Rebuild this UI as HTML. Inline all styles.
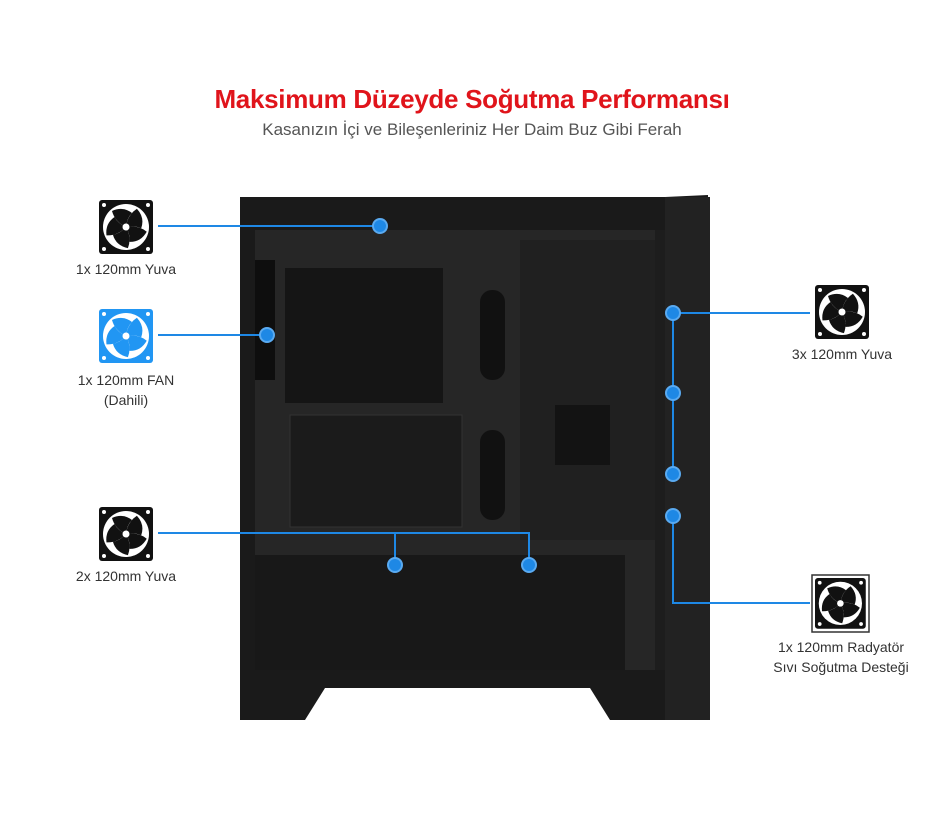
<!DOCTYPE html>
<html><head><meta charset="utf-8"><style>
body{margin:0;width:950px;height:814px;background:#fff;overflow:hidden;font-family:"Liberation Sans",sans-serif;position:relative}
.t{position:absolute;text-align:center;color:#333;font-size:14px}
</style></head><body>
<div class="t" style="left:0;width:944px;top:84px;font-size:26px;font-weight:bold;color:#e0141b;letter-spacing:-0.3px">Maksimum Düzeyde Soğutma Performansı</div>
<div class="t" style="left:0;width:944px;top:120px;font-size:17px;color:#555">Kasanızın İçi ve Bileşenleriniz Her Daim Buz Gibi Ferah</div>
<svg width="950" height="814" style="position:absolute;left:0;top:0">
<!-- case -->
<path d="M240 197 L665 197 L708 195 L710 720 L610 720 L590 688 L325 688 L305 720 L240 720 Z" fill="#1a1a1a"/>
<rect x="255" y="230" width="410" height="440" fill="#262626"/>
<rect x="285" y="268" width="158" height="135" fill="#151515"/>
<rect x="290" y="415" width="172" height="112" fill="#1b1b1b" stroke="#333"/>
<rect x="520" y="240" width="140" height="300" fill="#202020"/>
<rect x="555" y="405" width="55" height="60" fill="#131313"/>
<rect x="480" y="290" width="25" height="90" rx="12" fill="#111"/>
<rect x="480" y="430" width="25" height="90" rx="12" fill="#111"/>
<rect x="255" y="555" width="370" height="115" fill="#181818"/>
<rect x="255" y="260" width="20" height="120" fill="#0e0e0e"/>
<rect x="665" y="197" width="45" height="523" fill="#222"/>
<rect x="655" y="230" width="10" height="440" fill="#1d1d1d"/>
<!-- lines -->
<g stroke="#1e88e5" stroke-width="2" fill="none">
<path d="M158 226 H380"/><path d="M158 335 H267"/>
<path d="M158 533 H529 V565 M395 533 V565"/>
<path d="M673 313 H810 M673 313 V474 M673 516 V603 H810"/>
</g>
<g fill="#1e88e5" stroke="#5aaaf0" stroke-width="2">
<circle cx="380" cy="226" r="7"/><circle cx="267" cy="335" r="7"/><circle cx="395" cy="565" r="7"/><circle cx="529" cy="565" r="7"/>
<circle cx="673" cy="313" r="7"/><circle cx="673" cy="393" r="7"/><circle cx="673" cy="474" r="7"/><circle cx="673" cy="516" r="7"/>
</g>
<!-- fans -->
<g transform="translate(99 200)" fill="#111"><rect width="54" height="54" rx="3"/><circle cx="27" cy="27" r="23" fill="#fff"/>
<path id="b" d="M27 27 Q16 22 13 11 Q24 6 33 13 Q28 18 27 27Z"/><path d="M27 27 Q16 22 13 11 Q24 6 33 13 Q28 18 27 27Z" transform="rotate(72 27 27)"/><path d="M27 27 Q16 22 13 11 Q24 6 33 13 Q28 18 27 27Z" transform="rotate(144 27 27)"/><path d="M27 27 Q16 22 13 11 Q24 6 33 13 Q28 18 27 27Z" transform="rotate(216 27 27)"/><path d="M27 27 Q16 22 13 11 Q24 6 33 13 Q28 18 27 27Z" transform="rotate(288 27 27)"/>
<circle cx="27" cy="27" r="3.5" fill="#fff"/><g fill="#fff"><circle cx="5" cy="5" r="2"/><circle cx="49" cy="5" r="2"/><circle cx="5" cy="49" r="2"/><circle cx="49" cy="49" r="2"/></g></g>
<g transform="translate(99 309)" fill="#2196f3"><rect width="54" height="54" rx="3"/><circle cx="27" cy="27" r="23" fill="#fff"/>
<path d="M27 27 Q16 22 13 11 Q24 6 33 13 Q28 18 27 27Z"/><path d="M27 27 Q16 22 13 11 Q24 6 33 13 Q28 18 27 27Z" transform="rotate(72 27 27)"/><path d="M27 27 Q16 22 13 11 Q24 6 33 13 Q28 18 27 27Z" transform="rotate(144 27 27)"/><path d="M27 27 Q16 22 13 11 Q24 6 33 13 Q28 18 27 27Z" transform="rotate(216 27 27)"/><path d="M27 27 Q16 22 13 11 Q24 6 33 13 Q28 18 27 27Z" transform="rotate(288 27 27)"/>
<circle cx="27" cy="27" r="3.5" fill="#fff"/><g fill="#fff"><circle cx="5" cy="5" r="2"/><circle cx="49" cy="5" r="2"/><circle cx="5" cy="49" r="2"/><circle cx="49" cy="49" r="2"/></g></g>
<g transform="translate(99 507)" fill="#111"><rect width="54" height="54" rx="3"/><circle cx="27" cy="27" r="23" fill="#fff"/>
<path d="M27 27 Q16 22 13 11 Q24 6 33 13 Q28 18 27 27Z"/><path d="M27 27 Q16 22 13 11 Q24 6 33 13 Q28 18 27 27Z" transform="rotate(72 27 27)"/><path d="M27 27 Q16 22 13 11 Q24 6 33 13 Q28 18 27 27Z" transform="rotate(144 27 27)"/><path d="M27 27 Q16 22 13 11 Q24 6 33 13 Q28 18 27 27Z" transform="rotate(216 27 27)"/><path d="M27 27 Q16 22 13 11 Q24 6 33 13 Q28 18 27 27Z" transform="rotate(288 27 27)"/>
<circle cx="27" cy="27" r="3.5" fill="#fff"/><g fill="#fff"><circle cx="5" cy="5" r="2"/><circle cx="49" cy="5" r="2"/><circle cx="5" cy="49" r="2"/><circle cx="49" cy="49" r="2"/></g></g>
<g transform="translate(815 285)" fill="#111"><rect width="54" height="54" rx="3"/><circle cx="27" cy="27" r="23" fill="#fff"/>
<path d="M27 27 Q16 22 13 11 Q24 6 33 13 Q28 18 27 27Z"/><path d="M27 27 Q16 22 13 11 Q24 6 33 13 Q28 18 27 27Z" transform="rotate(72 27 27)"/><path d="M27 27 Q16 22 13 11 Q24 6 33 13 Q28 18 27 27Z" transform="rotate(144 27 27)"/><path d="M27 27 Q16 22 13 11 Q24 6 33 13 Q28 18 27 27Z" transform="rotate(216 27 27)"/><path d="M27 27 Q16 22 13 11 Q24 6 33 13 Q28 18 27 27Z" transform="rotate(288 27 27)"/>
<circle cx="27" cy="27" r="3.5" fill="#fff"/><g fill="#fff"><circle cx="5" cy="5" r="2"/><circle cx="49" cy="5" r="2"/><circle cx="5" cy="49" r="2"/><circle cx="49" cy="49" r="2"/></g></g>
<rect x="812" y="575" width="57" height="57" fill="#fff" stroke="#333" stroke-width="1.5"/>
<g transform="translate(815 578) scale(0.94)" fill="#111"><rect width="54" height="54" rx="3"/><circle cx="27" cy="27" r="23" fill="#fff"/>
<path d="M27 27 Q16 22 13 11 Q24 6 33 13 Q28 18 27 27Z"/><path d="M27 27 Q16 22 13 11 Q24 6 33 13 Q28 18 27 27Z" transform="rotate(72 27 27)"/><path d="M27 27 Q16 22 13 11 Q24 6 33 13 Q28 18 27 27Z" transform="rotate(144 27 27)"/><path d="M27 27 Q16 22 13 11 Q24 6 33 13 Q28 18 27 27Z" transform="rotate(216 27 27)"/><path d="M27 27 Q16 22 13 11 Q24 6 33 13 Q28 18 27 27Z" transform="rotate(288 27 27)"/>
<circle cx="27" cy="27" r="3.5" fill="#fff"/><g fill="#fff"><circle cx="5" cy="5" r="2"/><circle cx="49" cy="5" r="2"/><circle cx="5" cy="49" r="2"/><circle cx="49" cy="49" r="2"/></g></g>
</svg>
<div class="t" style="left:56px;width:140px;top:261px">1x 120mm Yuva</div>
<div class="t" style="left:56px;width:140px;top:370px;line-height:20px">1x 120mm FAN<br>(Dahili)</div>
<div class="t" style="left:56px;width:140px;top:568px">2x 120mm Yuva</div>
<div class="t" style="left:772px;width:140px;top:346px">3x 120mm Yuva</div>
<div class="t" style="left:761px;width:160px;top:637px;line-height:20px">1x 120mm Radyatör<br>Sıvı Soğutma Desteği</div>
</body></html>
